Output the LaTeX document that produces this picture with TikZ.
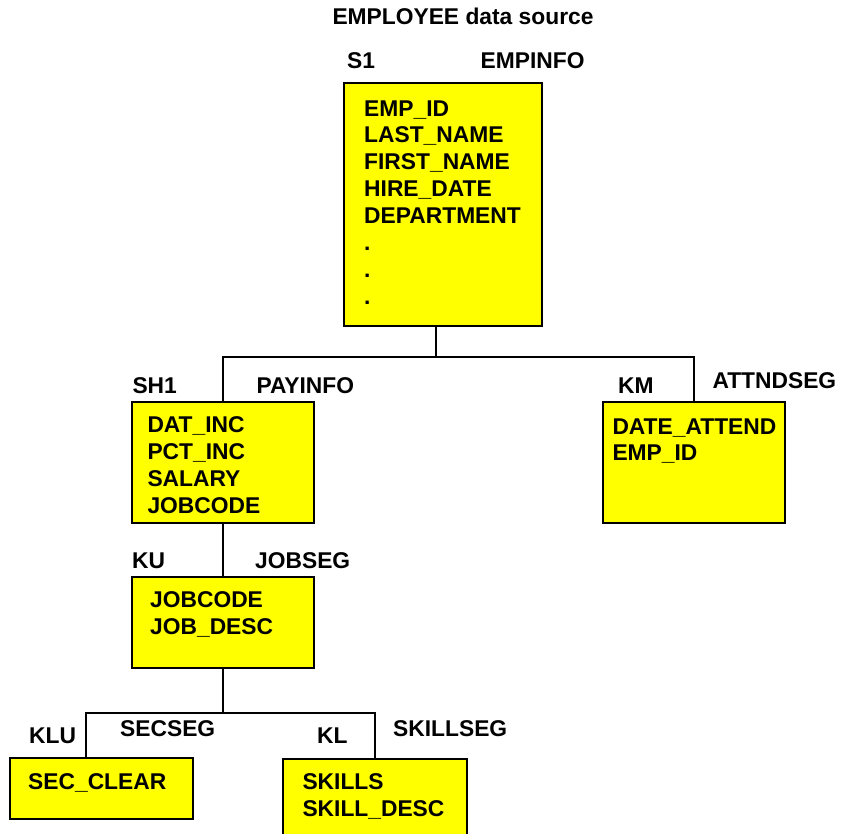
\documentclass[tikz,border=0pt]{standalone}
\usepackage{fontspec}
\setmainfont{Liberation Sans}
\definecolor{segyellow}{RGB}{255,255,0}
\begin{document}
\begin{tikzpicture}[x=1pt,y=-1pt,
  seg/.style={draw=black, fill=segyellow, line width=2pt, rectangle, inner sep=0pt},
  lbl/.style={inner sep=0pt, anchor=base west, font=\fontsize{22.8}{26.9}\selectfont\bfseries},
  fields/.style={inner sep=0pt, anchor=base west, font=\fontsize{22.8}{26.9}\selectfont\bfseries},
  link/.style={draw=black, line width=2pt}]
\clip (0,0) rectangle (842,833);
\fill[white] (0,0) rectangle (842,833);

% title
\node[lbl, anchor=base] (title) at (463,24) {EMPLOYEE data source};

% root segment
\node[seg, minimum width=198pt, minimum height=243pt] (empinfo) at (443,204.5) {};
\node[lbl] (s1) at (347,68.3) {S1};
\node[lbl] (empname) at (480.5,68.3) {EMPINFO};
\node[fields] (empflds) at (364,116) {\begin{tabular}[t]{@{}l@{}}EMP\_ID\\LAST\_NAME\\FIRST\_NAME\\HIRE\_DATE\\DEPARTMENT\\.\\.\\.\end{tabular}};

% second level
\node[seg, minimum width=182pt, minimum height=121pt] (payinfo) at (223.3,462.8) {};
\node[lbl] (sh1) at (132.3,393.3) {SH1};
\node[lbl] (payname) at (256.3,393.3) {PAYINFO};
\node[fields] (payflds) at (147.3,432.7) {\begin{tabular}[t]{@{}l@{}}DAT\_INC\\PCT\_INC\\SALARY\\JOBCODE\end{tabular}};

\node[seg, minimum width=182.3pt, minimum height=121pt] (attnd) at (693.9,462.8) {};
\node[lbl] (km) at (618,393.3) {KM};
\node[lbl] (attname) at (712.3,388.3) {ATTNDSEG};
\node[fields] (attflds) at (612.3,434) {\begin{tabular}[t]{@{}l@{}}DATE\_ATTEND\\EMP\_ID\end{tabular}};

% third level
\node[seg, minimum width=182pt, minimum height=91pt] (jobseg) at (223.3,622.5) {};
\node[lbl] (ku) at (132,568.3) {KU};
\node[lbl] (jobname) at (255,568.3) {JOBSEG};
\node[fields] (jobflds) at (150,607.3) {\begin{tabular}[t]{@{}l@{}}JOBCODE\\JOB\_DESC\end{tabular}};

% fourth level
\node[seg, minimum width=183pt, minimum height=61pt] (secseg) at (101.5,788.5) {};
\node[lbl] (klu) at (29,743.3) {KLU};
\node[lbl] (secname) at (120,736.7) {SECSEG};
\node[fields] (secflds) at (28,789.3) {\begin{tabular}[t]{@{}l@{}}SEC\_CLEAR\end{tabular}};

\node[seg, minimum width=183.4pt, minimum height=91pt] (skillseg) at (375,804.5) {};
\node[lbl] (kl) at (317,743.3) {KL};
\node[lbl] (skillname) at (393,736.7) {SKILLSEG};
\node[fields] (skillflds) at (302.3,789.3) {\begin{tabular}[t]{@{}l@{}}SKILLS\\SKILL\_DESC\end{tabular}};

% connectors
\coordinate (j1) at (436,356.7);
\coordinate (j2) at (223.3,712.7);
\coordinate (k2) at (86,712.7);
\draw[link] (j1 |- empinfo.south) -- (j1);
\draw[link] (payinfo.north) |- (j1) -| (attnd.north);
\draw[link] (payinfo.south) -- (jobseg.north);
\draw[link] (jobseg.south) -- (j2);
\draw[link] (k2 |- secseg.north) -- (k2) -| (skillseg.north);
\end{tikzpicture}
\end{document}
